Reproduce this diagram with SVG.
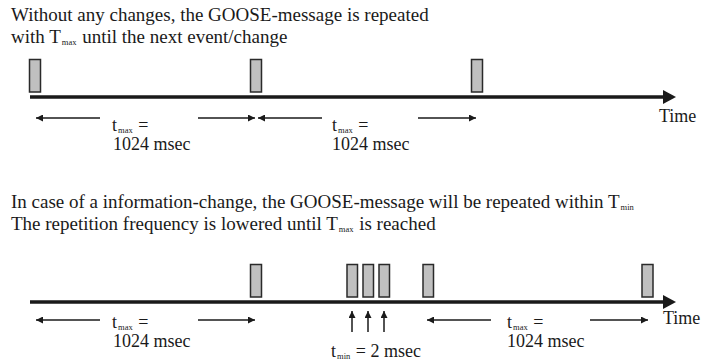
<svg xmlns="http://www.w3.org/2000/svg" width="701" height="362" viewBox="0 0 701 362">
<defs>
<style>
text{font-family:"Liberation Serif","Times New Roman",serif;fill:#1a1a1a}
.h{font-size:19px}
.l{font-size:18px}
.s{font-size:8.5px}
.box{fill:#c0c0c0;stroke:#2a2a2a;stroke-width:1.5}
.axis{stroke:#1a1a1a;stroke-width:3.5;fill:none}
.arr{stroke:#1a1a1a;stroke-width:1.5;fill:none}
</style>
<marker id="ah" viewBox="0 0 10 10" refX="10" refY="5" markerWidth="7" markerHeight="7" markerUnits="userSpaceOnUse" orient="auto"><path d="M0,0L10,5L0,10z" fill="#1a1a1a"/></marker>
</defs>
<rect width="701" height="362" fill="#fff"/>
<g id="header-top">
<text class="h" x="11" y="21">Without any changes, the GOOSE-message is repeated</text>
<text class="h" x="11" y="43">with T<tspan class="s" dx="1" dy="2">max</tspan><tspan dx="1" dy="-2"> until the next event/change</tspan></text>
</g>
<g id="messages-top">
<rect class="box" x="29.5" y="59.5" width="11" height="32.5"/>
<rect class="box" x="250.5" y="59.5" width="11" height="32.5"/>
<rect class="box" x="471.5" y="59.5" width="11" height="32.5"/>
</g>
<g id="connectors">
<line class="axis" x1="30" y1="97" x2="664" y2="97"/>
<path d="M663,90L676,97L663,104z" fill="#1a1a1a"/>
<line class="arr" x1="100" y1="118" x2="36" y2="118" marker-end="url(#ah)"/>
<line class="arr" x1="198" y1="118" x2="255" y2="118" marker-end="url(#ah)"/>
<line class="arr" x1="322" y1="118" x2="258" y2="118" marker-end="url(#ah)"/>
<line class="arr" x1="418" y1="118" x2="476" y2="118" marker-end="url(#ah)"/>
<line class="axis" x1="30" y1="302" x2="664" y2="302"/>
<path d="M663,295L676,302L663,309z" fill="#1a1a1a"/>
<line class="arr" x1="100" y1="320" x2="36" y2="320" marker-end="url(#ah)"/>
<line class="arr" x1="198" y1="320" x2="255" y2="320" marker-end="url(#ah)"/>
<line class="arr" x1="491" y1="320" x2="427" y2="320" marker-end="url(#ah)"/>
<line class="arr" x1="590" y1="320" x2="648" y2="320" marker-end="url(#ah)"/>
<line class="arr" x1="352" y1="332" x2="352" y2="311" marker-end="url(#ah)"/>
<line class="arr" x1="368" y1="332" x2="368" y2="311" marker-end="url(#ah)"/>
<line class="arr" x1="384" y1="332" x2="384" y2="311" marker-end="url(#ah)"/>
</g>
<g id="labels-top">
<text class="l" x="659" y="122">Time</text>
<text class="l" x="112" y="131">t<tspan class="s" dx="1" dy="2">max</tspan><tspan dx="1" dy="-2"> =</tspan></text>
<text class="l" x="113" y="150">1024 msec</text>
<text class="l" x="332" y="131">t<tspan class="s" dx="1" dy="2">max</tspan><tspan dx="1" dy="-2"> =</tspan></text>
<text class="l" x="332" y="150">1024 msec</text>
</g>
<g id="header-bottom">
<text class="h" x="11" y="208">In case of a information-change, the GOOSE-message will be repeated within T<tspan class="s" dx="1" dy="2">min</tspan></text>
<text class="h" x="11" y="230">The repetition frequency is lowered until T<tspan class="s" dx="1" dy="2">max</tspan><tspan dx="1" dy="-2"> is reached</tspan></text>
</g>
<g id="messages-bottom">
<rect class="box" x="250.5" y="264.5" width="11" height="32.5"/>
<rect class="box" x="347" y="264.5" width="10.5" height="32.5"/>
<rect class="box" x="363" y="264.5" width="10.5" height="32.5"/>
<rect class="box" x="379" y="264.5" width="10.5" height="32.5"/>
<rect class="box" x="423" y="264.5" width="10.5" height="32.5"/>
<rect class="box" x="642" y="264.5" width="11" height="32.5"/>
</g>
<g id="labels-bottom">
<text class="l" x="663" y="324">Time</text>
<text class="l" x="112" y="328">t<tspan class="s" dx="1" dy="2">max</tspan><tspan dx="1" dy="-2"> =</tspan></text>
<text class="l" x="113" y="347">1024 msec</text>
<text class="l" x="507" y="328">t<tspan class="s" dx="1" dy="2">max</tspan><tspan dx="1" dy="-2"> =</tspan></text>
<text class="l" x="507" y="347">1024 msec</text>
<text class="l" x="331" y="357">t<tspan class="s" dx="1" dy="2">min</tspan><tspan dx="1" dy="-2"> = 2 msec</tspan></text>
</g>
</svg>
